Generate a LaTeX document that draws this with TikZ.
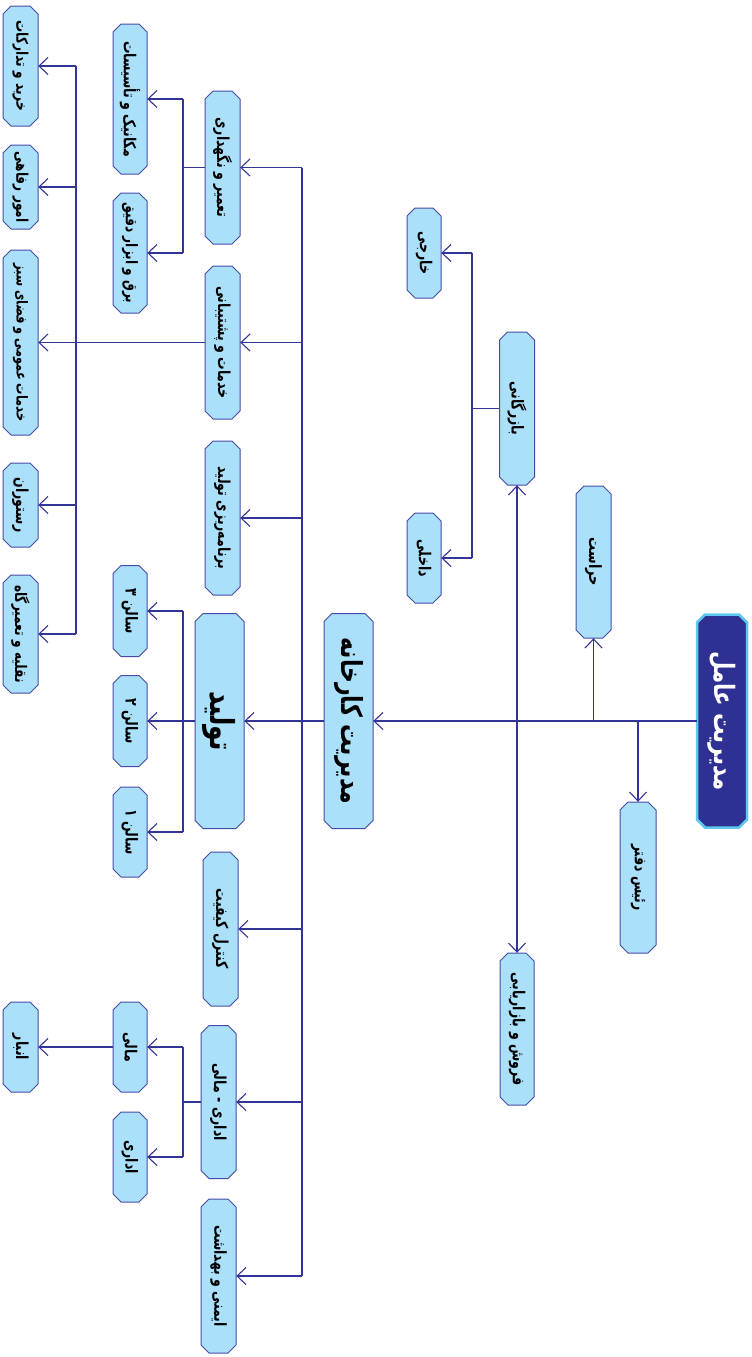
\documentclass[tikz,border=0pt]{standalone}
\usepackage{fontspec}
\newfontfamily\fa[Script=Arabic]{DejaVu Sans}
\TeXXeTstate=1
\usetikzlibrary{arrows.meta}
\definecolor{boxfill}{RGB}{171,224,250}
\definecolor{boxline}{RGB}{70,75,170}
\definecolor{lnc}{RGB}{50,52,150}
\definecolor{rootfill}{RGB}{46,49,146}
\definecolor{rootline}{RGB}{95,200,240}
\tikzset{
  boxshape/.style={fill=boxfill, draw=boxline, line width=1pt},
  rootshape/.style={fill=rootfill, draw=rootline, line width=2.5pt},
  boxtext/.style={rectangle, rotate=-90, inner sep=0pt, text=black},
  ln/.style={draw=lnc, line width=1.1pt},
  arr/.style={ln, -{Straight Barb[length=9pt,width=17pt]}},
  arrboth/.style={ln, {Straight Barb[length=9pt,width=17pt]}-{Straight Barb[length=9pt,width=17pt]}},
}
% #1 name, #2 x, #3 y, #4 length (vertical), #5 thickness (horizontal), #6 font size, #7 shape style, #8 text
\newcommand\cbox[8]{%
  \path[#7] ({#2-#5/2},{#3-#4/2+8}) -- ({#2-#5/2+8},{#3-#4/2}) -- ({#2+#5/2-8},{#3-#4/2})
    -- ({#2+#5/2},{#3-#4/2+8}) -- ({#2+#5/2},{#3+#4/2-8}) -- ({#2+#5/2-8},{#3+#4/2})
    -- ({#2-#5/2+8},{#3+#4/2}) -- ({#2-#5/2},{#3+#4/2-8}) -- cycle;
  \node[boxtext, minimum width=#4pt, minimum height=#5pt,
        font=\fa\bfseries\fontsize{#6}{#6}\selectfont] (#1) at (#2,#3) {\scalebox{0.76}[1]{#8}};
}
\begin{document}
\begin{tikzpicture}[x=1pt,y=-1pt]
\useasboundingbox (0,0) rectangle (752,1357);

% root and level 1
\cbox{root}{722}{721}{213}{50}{28}{rootshape}{\color{white}\beginR مدیریت عامل\endR}
\cbox{kar}{348.5}{721}{215}{49}{29}{boxshape}{\beginR مدیریت کارخانه\endR}
\cbox{herasat}{593.5}{562}{152}{35}{17}{boxshape}{\beginR حراست\endR}
\cbox{raees}{638}{877.5}{151}{36}{16.5}{boxshape}{\beginR رئیس دفتر\endR}
\cbox{baz}{517}{408.5}{153}{35}{16.5}{boxshape}{\beginR بازرگانی\endR}
\cbox{forush}{517}{1029}{152}{34}{16.5}{boxshape}{\beginR فروش و بازاریابی\endR}
\cbox{kharegi}{424}{253}{90}{34}{16.5}{boxshape}{\beginR خارجی\endR}
\cbox{dakheli}{424}{558}{90}{34}{16.5}{boxshape}{\beginR داخلی\endR}

% level 2
\cbox{tamir}{222.5}{167.5}{153}{35}{16.5}{boxshape}{\beginR تعمیر و نگهداری\endR}
\cbox{khadamat}{222.5}{342.5}{153}{35}{16.5}{boxshape}{\beginR خدمات و پشتیبانی\endR}
\cbox{barname}{222.5}{518}{154}{35}{16.5}{boxshape}{\beginR برنامه‌ریزی تولید\endR}
\cbox{tolid}{219.5}{721}{215}{49}{33}{boxshape}{\beginR تولید\endR}
\cbox{kontrol}{220.5}{929}{154}{35}{16.5}{boxshape}{\beginR کنترل کیفیت\endR}
\cbox{edarimali}{218.5}{1102}{153}{35}{16.5}{boxshape}{\beginR اداری - مالی\endR}
\cbox{imeni}{218.5}{1276}{154}{35}{16.5}{boxshape}{\beginR ایمنی و بهداشت\endR}

% level 3
\cbox{mechanic}{130}{99}{150}{34}{16.5}{boxshape}{\beginR مکانیک و تأسیسات\endR}
\cbox{bargh}{130}{253}{120}{34}{16}{boxshape}{\beginR برق و ابزار دقیق\endR}
\cbox{salon3}{130}{611}{91}{34}{16.5}{boxshape}{\beginR سالن ۳\endR}
\cbox{salon2}{130}{721}{91}{34}{16.5}{boxshape}{\beginR سالن ۲\endR}
\cbox{salon1}{130}{832}{90}{34}{16.5}{boxshape}{\beginR سالن ۱\endR}
\cbox{mali}{130}{1047}{90}{34}{16.5}{boxshape}{\beginR مالی\endR}
\cbox{edari}{130}{1157}{90}{34}{16.5}{boxshape}{\beginR اداری\endR}

% level 4
\cbox{anbar}{20.5}{1047}{90}{35}{16.5}{boxshape}{\beginR انبار\endR}
\cbox{kharid}{20.5}{66}{120}{35}{16}{boxshape}{\beginR خرید و تدارکات\endR}
\cbox{omur}{20.5}{187}{84}{35}{16}{boxshape}{\beginR امور رفاهی\endR}
\cbox{omumi}{20.5}{342.5}{185}{35}{15}{boxshape}{\beginR خدمات عمومی و فضای سبز\endR}
\cbox{restoran}{20.5}{505}{84}{35}{16.5}{boxshape}{\beginR رستوران\endR}
\cbox{naghlieh}{20.5}{634}{118}{35}{16}{boxshape}{\beginR نقلیه و تعمیرگاه\endR}

% connectors from root
\draw[arr] (root.south) -- (kar.north);
\draw[arr] (herasat.east |- root.south) -- (herasat.east);
\draw[arr] (raees.west |- root.south) -- (raees.west);
\draw[arrboth] (baz.east) -- (forush.west);

% bazargani
\coordinate (b2) at (472,0);
\draw[ln] (baz.south) -- (b2 |- baz.south);
\draw[ln] (b2 |- kharegi.north) -- (b2 |- dakheli.north);
\foreach \n in {kharegi,dakheli} \draw[arr] (b2 |- \n.north) -- (\n.north);

% factory management
\coordinate (b1) at (302,0);
\draw[ln] (b1 |- tamir.north) -- (b1 |- imeni.north);
\foreach \n in {tamir,khadamat,barname,kontrol,edarimali,imeni} \draw[arr] (b1 |- \n.north) -- (\n.north);
\draw[arr] (kar.south) -- (tolid.north);

% level 3 buses
\coordinate (b3) at (183,0);
\draw[ln] (tamir.south) -- (b3 |- tamir.south);
\draw[ln] (b3 |- mechanic.north) -- (b3 |- bargh.north);
\foreach \n in {mechanic,bargh} \draw[arr] (b3 |- \n.north) -- (\n.north);
\draw[ln] (tolid.south) -- (b3 |- tolid.south);
\draw[ln] (b3 |- salon3.north) -- (b3 |- salon1.north);
\foreach \n in {salon3,salon2,salon1} \draw[arr] (b3 |- \n.north) -- (\n.north);
\draw[ln] (edarimali.south) -- (b3 |- edarimali.south);
\draw[ln] (b3 |- mali.north) -- (b3 |- edari.north);
\foreach \n in {mali,edari} \draw[arr] (b3 |- \n.north) -- (\n.north);
\draw[arr] (mali.south) -- (anbar.north);

% services bus
\draw[arr] (khadamat.south) -- (omumi.north);
\coordinate (b4) at (76,0);
\draw[ln] (b4 |- kharid.north) -- (b4 |- naghlieh.north);
\foreach \n in {kharid,omur,restoran,naghlieh} \draw[arr] (b4 |- \n.north) -- (\n.north);
\end{tikzpicture}
\end{document}
